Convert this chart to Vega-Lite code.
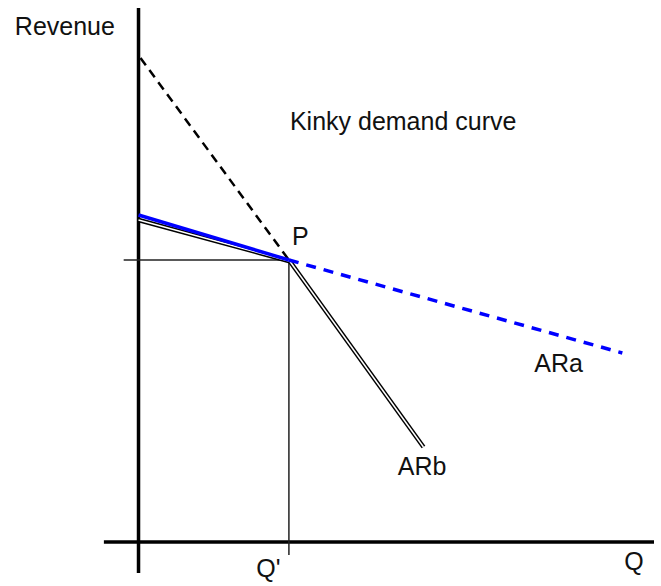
{
  "$schema": "https://vega.github.io/schema/vega-lite/v6.json",
  "width": 661,
  "height": 586,
  "autosize": {"type": "fit", "contains": "padding"},
  "padding": 0,
  "background": "white",
  "config": {"view": {"stroke": null}},
  "datasets": {
    "lines": [
      {"series": "yaxis", "x": 0, "y": 534},
      {"series": "yaxis", "x": 0, "y": -31},
      {"series": "xaxis", "x": -35, "y": 0},
      {"series": "xaxis", "x": 521, "y": 0},
      {"series": "hguide", "x": -15, "y": 282},
      {"series": "hguide", "x": 152, "y": 282},
      {"series": "vguide", "x": 152, "y": 282},
      {"series": "vguide", "x": 152, "y": -13},
      {"series": "steep", "x": 2, "y": 484},
      {"series": "steep", "x": 152, "y": 282},
      {"series": "ARb1", "x": 0, "y": 322},
      {"series": "ARb1", "x": 152, "y": 281},
      {"series": "ARb2", "x": 152, "y": 282},
      {"series": "ARb2", "x": 288, "y": 95},
      {"series": "ARa1", "x": 0, "y": 327},
      {"series": "ARa1", "x": 152, "y": 282},
      {"series": "ARa2", "x": 152, "y": 282},
      {"series": "ARa2", "x": 489, "y": 189}
    ],
    "labels": [
      {"label": "Revenue", "x": -125, "y": 507},
      {"label": "Kinky demand curve", "x": 153, "y": 412},
      {"label": "P", "x": 155, "y": 297},
      {"label": "ARa", "x": 400, "y": 170},
      {"label": "ARb", "x": 262, "y": 67},
      {"label": "Q'", "x": 119, "y": -35},
      {"label": "Q", "x": 491, "y": -28}
    ]
  },
  "encoding": {
    "x": {"field": "x", "type": "quantitative", "scale": {"domain": [-140, 521], "nice": false, "zero": false}, "axis": null},
    "y": {"field": "y", "type": "quantitative", "scale": {"domain": [-44, 542], "nice": false, "zero": false}, "axis": null}
  },
  "layer": [
    {
      "data": {"name": "lines"},
      "transform": [{"filter": "datum.series === 'yaxis' || datum.series === 'xaxis'"}],
      "mark": {"type": "line", "color": "black", "strokeWidth": 3.5, "strokeCap": "butt"},
      "encoding": {"detail": {"field": "series"}}
    },
    {
      "data": {"name": "lines"},
      "transform": [{"filter": "datum.series === 'hguide' || datum.series === 'vguide'"}],
      "mark": {"type": "line", "color": "#222222", "strokeWidth": 1.5, "strokeCap": "butt"},
      "encoding": {"detail": {"field": "series"}}
    },
    {
      "data": {"name": "lines"},
      "transform": [{"filter": "datum.series === 'steep'"}],
      "mark": {"type": "line", "color": "black", "strokeWidth": 2.5, "strokeDash": [9, 6], "strokeCap": "butt"},
      "encoding": {}
    },
    {
      "data": {"name": "lines"},
      "transform": [{"filter": "datum.series === 'ARb1' || datum.series === 'ARb2'"}],
      "mark": {"type": "line", "color": "black", "strokeWidth": 4.5, "strokeCap": "butt"},
      "encoding": {"detail": {"field": "series"}}
    },
    {
      "data": {"name": "lines"},
      "transform": [{"filter": "datum.series === 'ARb1' || datum.series === 'ARb2'"}],
      "mark": {"type": "line", "color": "white", "strokeWidth": 1.5, "strokeCap": "butt"},
      "encoding": {"detail": {"field": "series"}}
    },
    {
      "data": {"name": "lines"},
      "transform": [{"filter": "datum.series === 'ARa1'"}],
      "mark": {"type": "line", "color": "#0000ff", "strokeWidth": 3.5, "strokeCap": "butt"},
      "encoding": {}
    },
    {
      "data": {"name": "lines"},
      "transform": [{"filter": "datum.series === 'ARa2'"}],
      "mark": {"type": "line", "color": "#0000ff", "strokeWidth": 3.5, "strokeDash": [10, 8], "strokeCap": "butt"},
      "encoding": {}
    },
    {
      "data": {"name": "labels"},
      "mark": {"type": "text", "align": "left", "baseline": "alphabetic", "font": "Liberation Sans", "fontSize": 25, "color": "#111111"},
      "encoding": {"text": {"field": "label"}}
    }
  ]
}
